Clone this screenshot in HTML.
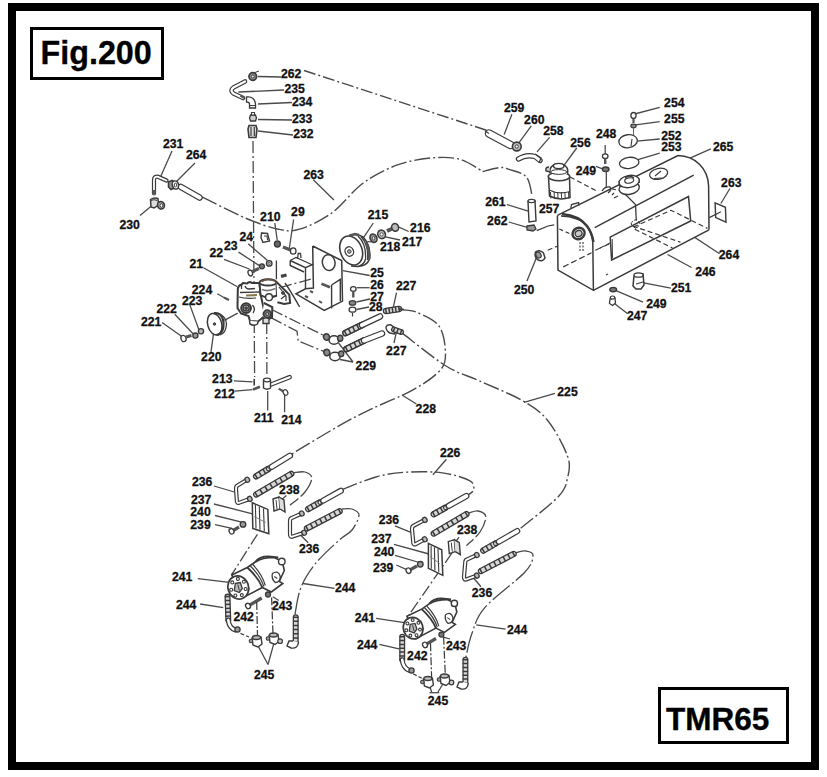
<!DOCTYPE html>
<html><head><meta charset="utf-8"><style>
html,body{margin:0;padding:0;background:#fff;width:827px;height:777px;overflow:hidden}
svg{display:block;font-family:"Liberation Sans",sans-serif}
</style></head><body>
<svg width="827" height="777" viewBox="0 0 827 777" font-family="Liberation Sans, sans-serif" font-weight="bold" fill="#111"><rect x="12" y="7" width="803" height="759" fill="none" stroke="#000" stroke-width="8"/>
<rect x="31.5" y="28.5" width="131" height="50" fill="none" stroke="#000" stroke-width="3"/>
<rect x="659.5" y="688.5" width="128" height="54" fill="none" stroke="#000" stroke-width="3"/>
<text x="40.5" y="64" font-size="32.3" stroke="#000" stroke-width="0.3" fill="#000">Fig.200</text>
<text x="666" y="729.8" font-size="31.5" stroke="#000" stroke-width="0.35" fill="#000">TMR65</text>
<text transform="translate(280.9 78.3) scale(0.94 1)" font-size="13" stroke="#111" stroke-width="0.3">262</text>
<text transform="translate(284.4 93.0) scale(0.94 1)" font-size="13" stroke="#111" stroke-width="0.3">235</text>
<text transform="translate(292.0 105.6) scale(0.94 1)" font-size="13" stroke="#111" stroke-width="0.3">234</text>
<text transform="translate(292.0 122.5) scale(0.94 1)" font-size="13" stroke="#111" stroke-width="0.3">233</text>
<text transform="translate(293.2 138.3) scale(0.94 1)" font-size="13" stroke="#111" stroke-width="0.3">232</text>
<text transform="translate(303.4 178.5) scale(0.94 1)" font-size="13" stroke="#111" stroke-width="0.3">263</text>
<text transform="translate(162.9 147.7) scale(0.94 1)" font-size="13" stroke="#111" stroke-width="0.3">231</text>
<text transform="translate(185.9 158.5) scale(0.94 1)" font-size="13" stroke="#111" stroke-width="0.3">264</text>
<text transform="translate(119.4 229.0) scale(0.94 1)" font-size="13" stroke="#111" stroke-width="0.3">230</text>
<text transform="translate(260.1 220.7) scale(0.94 1)" font-size="13" stroke="#111" stroke-width="0.3">210</text>
<text transform="translate(291.1 215.9) scale(0.94 1)" font-size="13" stroke="#111" stroke-width="0.3">29</text>
<text transform="translate(239.4 240.8) scale(0.94 1)" font-size="13" stroke="#111" stroke-width="0.3">24</text>
<text transform="translate(223.9 249.7) scale(0.94 1)" font-size="13" stroke="#111" stroke-width="0.3">23</text>
<text transform="translate(209.4 257.0) scale(0.94 1)" font-size="13" stroke="#111" stroke-width="0.3">22</text>
<text transform="translate(189.4 267.8) scale(0.94 1)" font-size="13" stroke="#111" stroke-width="0.3">21</text>
<text transform="translate(191.8 293.5) scale(0.94 1)" font-size="13" stroke="#111" stroke-width="0.3">224</text>
<text transform="translate(182.0 305.0) scale(0.94 1)" font-size="13" stroke="#111" stroke-width="0.3">223</text>
<text transform="translate(156.4 312.7) scale(0.94 1)" font-size="13" stroke="#111" stroke-width="0.3">222</text>
<text transform="translate(141.0 326.0) scale(0.94 1)" font-size="13" stroke="#111" stroke-width="0.3">221</text>
<text transform="translate(201.1 360.6) scale(0.94 1)" font-size="13" stroke="#111" stroke-width="0.3">220</text>
<text transform="translate(367.8 218.8) scale(0.94 1)" font-size="13" stroke="#111" stroke-width="0.3">215</text>
<text transform="translate(410.1 231.5) scale(0.94 1)" font-size="13" stroke="#111" stroke-width="0.3">216</text>
<text transform="translate(402.0 245.7) scale(0.94 1)" font-size="13" stroke="#111" stroke-width="0.3">217</text>
<text transform="translate(380.0 251.0) scale(0.94 1)" font-size="13" stroke="#111" stroke-width="0.3">218</text>
<text transform="translate(370.3 276.7) scale(0.94 1)" font-size="13" stroke="#111" stroke-width="0.3">25</text>
<text transform="translate(370.3 289.0) scale(0.94 1)" font-size="13" stroke="#111" stroke-width="0.3">26</text>
<text transform="translate(370.3 301.0) scale(0.94 1)" font-size="13" stroke="#111" stroke-width="0.3">27</text>
<text transform="translate(369.0 311.0) scale(0.94 1)" font-size="13" stroke="#111" stroke-width="0.3">28</text>
<text transform="translate(395.9 290.0) scale(0.94 1)" font-size="13" stroke="#111" stroke-width="0.3">227</text>
<text transform="translate(386.1 355.0) scale(0.94 1)" font-size="13" stroke="#111" stroke-width="0.3">227</text>
<text transform="translate(355.6 369.6) scale(0.94 1)" font-size="13" stroke="#111" stroke-width="0.3">229</text>
<text transform="translate(212.1 383.0) scale(0.94 1)" font-size="13" stroke="#111" stroke-width="0.3">213</text>
<text transform="translate(214.3 397.5) scale(0.94 1)" font-size="13" stroke="#111" stroke-width="0.3">212</text>
<text transform="translate(253.9 422.4) scale(0.94 1)" font-size="13" stroke="#111" stroke-width="0.3">211</text>
<text transform="translate(281.2 424.1) scale(0.94 1)" font-size="13" stroke="#111" stroke-width="0.3">214</text>
<text transform="translate(415.6 413.0) scale(0.94 1)" font-size="13" stroke="#111" stroke-width="0.3">228</text>
<text transform="translate(557.3 396.3) scale(0.94 1)" font-size="13" stroke="#111" stroke-width="0.3">225</text>
<text transform="translate(440.0 457.4) scale(0.94 1)" font-size="13" stroke="#111" stroke-width="0.3">226</text>
<text transform="translate(503.9 112.0) scale(0.94 1)" font-size="13" stroke="#111" stroke-width="0.3">259</text>
<text transform="translate(524.1 124.0) scale(0.94 1)" font-size="13" stroke="#111" stroke-width="0.3">260</text>
<text transform="translate(543.2 134.5) scale(0.94 1)" font-size="13" stroke="#111" stroke-width="0.3">258</text>
<text transform="translate(570.3 146.5) scale(0.94 1)" font-size="13" stroke="#111" stroke-width="0.3">256</text>
<text transform="translate(596.0 137.5) scale(0.94 1)" font-size="13" stroke="#111" stroke-width="0.3">248</text>
<text transform="translate(575.7 175.1) scale(0.94 1)" font-size="13" stroke="#111" stroke-width="0.3">249</text>
<text transform="translate(664.1 107.0) scale(0.94 1)" font-size="13" stroke="#111" stroke-width="0.3">254</text>
<text transform="translate(664.1 122.7) scale(0.94 1)" font-size="13" stroke="#111" stroke-width="0.3">255</text>
<text transform="translate(661.2 139.6) scale(0.94 1)" font-size="13" stroke="#111" stroke-width="0.3">252</text>
<text transform="translate(661.2 151.4) scale(0.94 1)" font-size="13" stroke="#111" stroke-width="0.3">253</text>
<text transform="translate(713.0 150.5) scale(0.94 1)" font-size="13" stroke="#111" stroke-width="0.3">265</text>
<text transform="translate(721.1 186.5) scale(0.94 1)" font-size="13" stroke="#111" stroke-width="0.3">263</text>
<text transform="translate(485.2 205.7) scale(0.94 1)" font-size="13" stroke="#111" stroke-width="0.3">261</text>
<text transform="translate(539.0 212.8) scale(0.94 1)" font-size="13" stroke="#111" stroke-width="0.3">257</text>
<text transform="translate(487.1 225.4) scale(0.94 1)" font-size="13" stroke="#111" stroke-width="0.3">262</text>
<text transform="translate(513.9 293.5) scale(0.94 1)" font-size="13" stroke="#111" stroke-width="0.3">250</text>
<text transform="translate(718.8 258.5) scale(0.94 1)" font-size="13" stroke="#111" stroke-width="0.3">264</text>
<text transform="translate(695.2 276.0) scale(0.94 1)" font-size="13" stroke="#111" stroke-width="0.3">246</text>
<text transform="translate(670.9 292.0) scale(0.94 1)" font-size="13" stroke="#111" stroke-width="0.3">251</text>
<text transform="translate(646.2 307.8) scale(0.94 1)" font-size="13" stroke="#111" stroke-width="0.3">249</text>
<text transform="translate(626.9 320.0) scale(0.94 1)" font-size="13" stroke="#111" stroke-width="0.3">247</text>
<text transform="translate(192.0 485.5) scale(0.94 1)" font-size="13" stroke="#111" stroke-width="0.3">236</text>
<text transform="translate(191.0 503.6) scale(0.94 1)" font-size="13" stroke="#111" stroke-width="0.3">237</text>
<text transform="translate(190.3 515.8) scale(0.94 1)" font-size="13" stroke="#111" stroke-width="0.3">240</text>
<text transform="translate(190.3 528.7) scale(0.94 1)" font-size="13" stroke="#111" stroke-width="0.3">239</text>
<text transform="translate(279.1 494.4) scale(0.94 1)" font-size="13" stroke="#111" stroke-width="0.3">238</text>
<text transform="translate(298.9 552.5) scale(0.94 1)" font-size="13" stroke="#111" stroke-width="0.3">236</text>
<text transform="translate(171.9 581.0) scale(0.94 1)" font-size="13" stroke="#111" stroke-width="0.3">241</text>
<text transform="translate(175.9 608.8) scale(0.94 1)" font-size="13" stroke="#111" stroke-width="0.3">244</text>
<text transform="translate(233.4 621.0) scale(0.94 1)" font-size="13" stroke="#111" stroke-width="0.3">242</text>
<text transform="translate(271.9 610.0) scale(0.94 1)" font-size="13" stroke="#111" stroke-width="0.3">243</text>
<text transform="translate(334.9 591.5) scale(0.94 1)" font-size="13" stroke="#111" stroke-width="0.3">244</text>
<text transform="translate(254.0 679.0) scale(0.94 1)" font-size="13" stroke="#111" stroke-width="0.3">245</text>
<text transform="translate(378.7 523.7) scale(0.94 1)" font-size="13" stroke="#111" stroke-width="0.3">236</text>
<text transform="translate(371.2 542.5) scale(0.94 1)" font-size="13" stroke="#111" stroke-width="0.3">237</text>
<text transform="translate(373.9 555.6) scale(0.94 1)" font-size="13" stroke="#111" stroke-width="0.3">240</text>
<text transform="translate(372.9 572.3) scale(0.94 1)" font-size="13" stroke="#111" stroke-width="0.3">239</text>
<text transform="translate(456.9 533.6) scale(0.94 1)" font-size="13" stroke="#111" stroke-width="0.3">238</text>
<text transform="translate(471.8 597.4) scale(0.94 1)" font-size="13" stroke="#111" stroke-width="0.3">236</text>
<text transform="translate(354.7 621.7) scale(0.94 1)" font-size="13" stroke="#111" stroke-width="0.3">241</text>
<text transform="translate(356.9 649.4) scale(0.94 1)" font-size="13" stroke="#111" stroke-width="0.3">244</text>
<text transform="translate(407.1 659.6) scale(0.94 1)" font-size="13" stroke="#111" stroke-width="0.3">242</text>
<text transform="translate(446.0 650.2) scale(0.94 1)" font-size="13" stroke="#111" stroke-width="0.3">243</text>
<text transform="translate(507.0 634.2) scale(0.94 1)" font-size="13" stroke="#111" stroke-width="0.3">244</text>
<text transform="translate(427.8 704.8) scale(0.94 1)" font-size="13" stroke="#111" stroke-width="0.3">245</text>
<line x1="258.0" y1="76.5" x2="281.0" y2="77.0" stroke="#4a4a4a" stroke-width="1.3"/>
<line x1="238.4" y1="92.0" x2="284.0" y2="90.0" stroke="#4a4a4a" stroke-width="1.3"/>
<line x1="258.0" y1="104.0" x2="292.0" y2="102.5" stroke="#4a4a4a" stroke-width="1.3"/>
<line x1="258.0" y1="119.5" x2="292.0" y2="120.0" stroke="#4a4a4a" stroke-width="1.3"/>
<line x1="258.0" y1="131.0" x2="293.0" y2="135.0" stroke="#4a4a4a" stroke-width="1.3"/>
<line x1="313.3" y1="179.7" x2="333.9" y2="200.0" stroke="#4a4a4a" stroke-width="1.3"/>
<line x1="172.0" y1="151.0" x2="160.0" y2="178.0" stroke="#4a4a4a" stroke-width="1.3"/>
<line x1="195.0" y1="163.0" x2="176.0" y2="182.0" stroke="#4a4a4a" stroke-width="1.3"/>
<line x1="140.0" y1="215.5" x2="150.8" y2="206.4" stroke="#4a4a4a" stroke-width="1.3"/>
<line x1="274.8" y1="223.0" x2="277.2" y2="240.0" stroke="#4a4a4a" stroke-width="1.3"/>
<line x1="293.6" y1="219.5" x2="289.3" y2="248.5" stroke="#4a4a4a" stroke-width="1.3"/>
<line x1="248.2" y1="243.7" x2="267.5" y2="260.6" stroke="#4a4a4a" stroke-width="1.3"/>
<line x1="238.5" y1="252.1" x2="259.0" y2="265.4" stroke="#4a4a4a" stroke-width="1.3"/>
<line x1="224.0" y1="259.4" x2="249.4" y2="269.0" stroke="#4a4a4a" stroke-width="1.3"/>
<line x1="203.4" y1="267.8" x2="237.0" y2="286.5" stroke="#4a4a4a" stroke-width="1.3"/>
<line x1="217.2" y1="293.8" x2="228.0" y2="299.8" stroke="#4a4a4a" stroke-width="1.3"/>
<line x1="189.3" y1="303.4" x2="199.0" y2="330.0" stroke="#4a4a4a" stroke-width="1.3"/>
<line x1="174.8" y1="314.3" x2="193.0" y2="333.7" stroke="#4a4a4a" stroke-width="1.3"/>
<line x1="162.0" y1="322.5" x2="182.6" y2="337.0" stroke="#4a4a4a" stroke-width="1.3"/>
<line x1="213.5" y1="333.7" x2="211.0" y2="351.8" stroke="#4a4a4a" stroke-width="1.3"/>
<line x1="342.8" y1="270.6" x2="369.6" y2="275.5" stroke="#4a4a4a" stroke-width="1.3"/>
<line x1="356.7" y1="287.7" x2="369.6" y2="287.7" stroke="#4a4a4a" stroke-width="1.3"/>
<line x1="356.5" y1="302.0" x2="370.0" y2="299.0" stroke="#4a4a4a" stroke-width="1.3"/>
<line x1="356.5" y1="309.5" x2="369.0" y2="307.0" stroke="#4a4a4a" stroke-width="1.3"/>
<line x1="373.3" y1="223.0" x2="363.5" y2="237.6" stroke="#4a4a4a" stroke-width="1.3"/>
<line x1="383.0" y1="236.4" x2="400.0" y2="240.0" stroke="#4a4a4a" stroke-width="1.3"/>
<line x1="397.7" y1="226.6" x2="408.7" y2="231.5" stroke="#4a4a4a" stroke-width="1.3"/>
<line x1="396.5" y1="292.6" x2="392.8" y2="309.7" stroke="#4a4a4a" stroke-width="1.3"/>
<line x1="394.0" y1="343.0" x2="396.5" y2="331.7" stroke="#4a4a4a" stroke-width="1.3"/>
<line x1="353.0" y1="362.0" x2="338.6" y2="343.0" stroke="#4a4a4a" stroke-width="1.3"/>
<line x1="353.0" y1="362.0" x2="340.0" y2="359.5" stroke="#4a4a4a" stroke-width="1.3"/>
<line x1="233.9" y1="380.9" x2="252.5" y2="381.8" stroke="#4a4a4a" stroke-width="1.3"/>
<line x1="234.7" y1="391.1" x2="252.5" y2="389.7" stroke="#4a4a4a" stroke-width="1.3"/>
<line x1="267.7" y1="391.1" x2="267.7" y2="410.6" stroke="#4a4a4a" stroke-width="1.3"/>
<line x1="284.6" y1="394.5" x2="284.6" y2="412.3" stroke="#4a4a4a" stroke-width="1.3"/>
<line x1="402.0" y1="395.0" x2="416.4" y2="404.0" stroke="#4a4a4a" stroke-width="1.3"/>
<line x1="524.0" y1="402.3" x2="555.0" y2="393.3" stroke="#4a4a4a" stroke-width="1.3"/>
<line x1="432.9" y1="474.8" x2="446.4" y2="459.3" stroke="#4a4a4a" stroke-width="1.3"/>
<line x1="511.9" y1="114.2" x2="504.2" y2="134.5" stroke="#4a4a4a" stroke-width="1.3"/>
<line x1="531.3" y1="125.8" x2="518.7" y2="143.2" stroke="#4a4a4a" stroke-width="1.3"/>
<line x1="549.6" y1="137.4" x2="537.0" y2="151.9" stroke="#4a4a4a" stroke-width="1.3"/>
<line x1="576.7" y1="148.0" x2="563.2" y2="166.4" stroke="#4a4a4a" stroke-width="1.3"/>
<line x1="596.0" y1="166.4" x2="603.8" y2="169.3" stroke="#4a4a4a" stroke-width="1.3"/>
<line x1="634.6" y1="114.0" x2="659.7" y2="107.4" stroke="#4a4a4a" stroke-width="1.3"/>
<line x1="635.7" y1="124.8" x2="659.7" y2="121.6" stroke="#4a4a4a" stroke-width="1.3"/>
<line x1="636.8" y1="141.2" x2="659.7" y2="139.0" stroke="#4a4a4a" stroke-width="1.3"/>
<line x1="637.9" y1="159.7" x2="659.7" y2="153.1" stroke="#4a4a4a" stroke-width="1.3"/>
<line x1="657.5" y1="172.7" x2="710.8" y2="148.8" stroke="#4a4a4a" stroke-width="1.3"/>
<line x1="729.9" y1="188.5" x2="720.9" y2="203.5" stroke="#4a4a4a" stroke-width="1.3"/>
<line x1="506.8" y1="204.5" x2="529.0" y2="211.3" stroke="#4a4a4a" stroke-width="1.3"/>
<line x1="508.7" y1="222.0" x2="528.0" y2="227.7" stroke="#4a4a4a" stroke-width="1.3"/>
<line x1="527.0" y1="281.0" x2="536.8" y2="256.7" stroke="#4a4a4a" stroke-width="1.3"/>
<line x1="676.5" y1="225.4" x2="719.6" y2="253.7" stroke="#4a4a4a" stroke-width="1.3"/>
<line x1="667.5" y1="254.5" x2="691.5" y2="267.5" stroke="#4a4a4a" stroke-width="1.3"/>
<line x1="643.6" y1="282.8" x2="670.8" y2="288.2" stroke="#4a4a4a" stroke-width="1.3"/>
<line x1="616.0" y1="290.6" x2="643.0" y2="302.2" stroke="#4a4a4a" stroke-width="1.3"/>
<line x1="614.1" y1="303.2" x2="627.7" y2="313.8" stroke="#4a4a4a" stroke-width="1.3"/>
<line x1="213.9" y1="486.0" x2="234.4" y2="492.0" stroke="#4a4a4a" stroke-width="1.3"/>
<line x1="213.9" y1="504.0" x2="252.5" y2="513.8" stroke="#4a4a4a" stroke-width="1.3"/>
<line x1="215.0" y1="515.5" x2="241.7" y2="522.2" stroke="#4a4a4a" stroke-width="1.3"/>
<line x1="215.0" y1="524.6" x2="232.0" y2="528.3" stroke="#4a4a4a" stroke-width="1.3"/>
<line x1="286.4" y1="495.6" x2="279.0" y2="501.7" stroke="#4a4a4a" stroke-width="1.3"/>
<line x1="308.2" y1="542.8" x2="298.5" y2="533.0" stroke="#4a4a4a" stroke-width="1.3"/>
<line x1="197.8" y1="578.7" x2="229.3" y2="582.3" stroke="#4a4a4a" stroke-width="1.3"/>
<line x1="200.2" y1="604.0" x2="223.2" y2="607.7" stroke="#4a4a4a" stroke-width="1.3"/>
<line x1="303.0" y1="583.5" x2="334.5" y2="588.4" stroke="#4a4a4a" stroke-width="1.3"/>
<line x1="272.8" y1="596.8" x2="278.8" y2="600.5" stroke="#4a4a4a" stroke-width="1.3"/>
<line x1="268.0" y1="664.5" x2="257.0" y2="644.0" stroke="#4a4a4a" stroke-width="1.3"/>
<line x1="268.0" y1="664.5" x2="274.0" y2="642.8" stroke="#4a4a4a" stroke-width="1.3"/>
<line x1="395.0" y1="525.8" x2="410.8" y2="532.3" stroke="#4a4a4a" stroke-width="1.3"/>
<line x1="393.9" y1="544.4" x2="429.0" y2="554.0" stroke="#4a4a4a" stroke-width="1.3"/>
<line x1="395.0" y1="555.3" x2="419.3" y2="562.5" stroke="#4a4a4a" stroke-width="1.3"/>
<line x1="396.3" y1="565.0" x2="407.2" y2="569.8" stroke="#4a4a4a" stroke-width="1.3"/>
<line x1="459.0" y1="537.2" x2="455.5" y2="542.0" stroke="#4a4a4a" stroke-width="1.3"/>
<line x1="481.0" y1="586.7" x2="473.7" y2="578.3" stroke="#4a4a4a" stroke-width="1.3"/>
<line x1="376.1" y1="618.3" x2="404.4" y2="622.7" stroke="#4a4a4a" stroke-width="1.3"/>
<line x1="379.4" y1="644.4" x2="399.0" y2="648.8" stroke="#4a4a4a" stroke-width="1.3"/>
<line x1="476.3" y1="624.8" x2="505.6" y2="629.2" stroke="#4a4a4a" stroke-width="1.3"/>
<line x1="429.5" y1="692.7" x2="439.2" y2="692.7" stroke="#4a4a4a" stroke-width="1.3"/>
<line x1="431.6" y1="692.0" x2="428.4" y2="682.0" stroke="#4a4a4a" stroke-width="1.3"/>
<line x1="438.0" y1="692.0" x2="444.7" y2="681.0" stroke="#4a4a4a" stroke-width="1.3"/>
<line x1="442.5" y1="636.8" x2="450.0" y2="639.0" stroke="#4a4a4a" stroke-width="1.3"/>
<path d="M304,70.5 L489.8,131.3" stroke="#4a4a4a" stroke-width="1.4" fill="none" stroke-dasharray="12 3 2 3"/>
<path d="M253,141 L254.6,377" stroke="#4a4a4a" stroke-width="1.3" fill="none" stroke-dasharray="12 3 2 3"/>
<path d="M266.7,322 L266.9,377" stroke="#4a4a4a" stroke-width="1.3" fill="none" stroke-dasharray="12 3 2 3"/>
<path d="M202.5,197.2 C209.8,200.8 233.8,213.2 246.4,218.5 C259.0,223.8 269.4,227.4 278.3,229.2 C287.2,231.0 290.7,231.9 299.6,229.2 C308.5,226.5 320.9,220.8 331.5,213.2 C342.1,205.5 352.0,191.3 362.9,183.3 C373.8,175.3 385.4,169.4 396.7,165.2 C408.0,161.0 420.1,159.0 430.6,158 C441.1,157.0 450.9,156.9 459.6,159.2 C468.3,161.4 478.8,169.4 482.6,171.5" stroke="#4a4a4a" stroke-width="1.4" fill="none" stroke-dasharray="16 3 2 3"/>
<path d="M482.6,171.5 C485.5,170.8 495.6,168.0 500,167.6 C504.4,167.2 504.6,167.7 509,169.3 C513.4,170.9 522.5,172.5 526.4,177 C530.3,181.5 531.2,193.2 532.2,196.4" stroke="#4a4a4a" stroke-width="1.4" fill="none" stroke-dasharray="16 3 2 3"/>
<path d="M400,309.7 C402.8,310.1 410.5,309.7 417,312.4 C423.5,315.1 434.3,319.5 439,326 C443.7,332.5 445.1,344.3 445.4,351.6 C445.7,358.9 446.0,363.4 440.7,369.7 C435.4,376.0 425.3,383.0 413.5,389.6 C401.7,396.2 382.6,403.5 370,409.6 C357.4,415.7 351.2,418.9 338,426.4 C324.8,433.9 298.8,449.8 291,454.5" stroke="#4a4a4a" stroke-width="1.4" fill="none" stroke-dasharray="16 3 2 3"/>
<path d="M402.6,333.4 C409.8,338.8 433.3,358.1 446,366 C458.7,373.9 466.1,374.9 478.8,380.6 C491.5,386.4 510.8,393.9 522.3,400.5 C533.8,407.1 540.1,411.1 547.7,420.5 C555.3,429.9 564.4,447.1 567.7,456.7 C571.0,466.3 569.1,471.3 567.5,478 C565.9,484.7 566.2,488.3 558,497 C549.8,505.7 525.0,524.5 518.4,530" stroke="#4a4a4a" stroke-width="1.4" fill="none" stroke-dasharray="16 3 2 3"/>
<path d="M342,489.6 C347.8,487.5 365.8,479.6 376.7,476.7 C387.6,473.8 396.7,472.7 407.7,472.1 C418.7,471.5 432.2,471.5 442.5,472.9 C452.8,474.3 464.4,477.8 469.6,480.6 C474.8,483.5 474.0,487.4 473.5,490 C473.0,492.6 467.6,495.0 466.4,496" stroke="#4a4a4a" stroke-width="1.4" fill="none" stroke-dasharray="16 3 2 3"/>
<path d="M293.7,472.6 C295.6,472.5 302.0,471.1 305,472 C308.0,472.9 311.8,474.7 311.8,478 C311.8,481.3 308.6,487.4 305,492 C301.4,496.6 292.5,503.1 290,505.3" stroke="#4a4a4a" stroke-width="1.3" fill="none" stroke-dasharray="20 3"/>
<path d="M342,509 C343.7,509.0 349.2,508.0 352,509 C354.8,510.0 359.0,511.5 359,515 C359.0,518.5 355.3,525.8 352,530 C348.7,534.2 345.5,534.3 339.3,540 C333.1,545.7 321.4,556.1 315,564.2 C308.6,572.3 304.0,579.5 300.6,588.4 C297.2,597.3 295.5,612.6 294.5,617.4" stroke="#4a4a4a" stroke-width="1.3" fill="none" stroke-dasharray="22 3 2 3"/>
<path d="M257.4,534.3 L232,574.2" stroke="#4a4a4a" stroke-width="1.3" fill="none" stroke-dasharray="12 3 2 3"/>
<path d="M468.8,513 C470.3,512.7 475.2,510.4 478,511 C480.8,511.6 485.5,513.1 485.8,516.6 C486.1,520.1 483.2,527.2 480,532 C476.8,536.8 468.7,543.3 466.4,545.6" stroke="#4a4a4a" stroke-width="1.3" fill="none" stroke-dasharray="20 3"/>
<path d="M514.8,552.9 C516.7,552.6 523.0,550.6 526,551 C529.0,551.4 533.2,551.8 533,555.3 C532.8,558.8 533.0,563.3 525,572 C517.0,580.7 493.9,597.1 485,607.4 C476.1,617.6 475.2,624.8 471.9,633.5 C468.6,642.2 466.5,655.3 465.4,659.7" stroke="#4a4a4a" stroke-width="1.3" fill="none" stroke-dasharray="22 3 2 3"/>
<path d="M452,552.9 L408.4,615.8" stroke="#4a4a4a" stroke-width="1.3" fill="none" stroke-dasharray="12 3 2 3"/>
<path d="M271.6,309.5 L324.8,336" stroke="#4a4a4a" stroke-width="1.3" fill="none" stroke-dasharray="12 3 2 3"/>
<path d="M269,316.7 L297,331.2 L298.2,341 L324.8,351.8" stroke="#4a4a4a" stroke-width="1.3" fill="none" stroke-dasharray="14 3 2 3"/>
<path d="M280,287.7 L315,278" stroke="#4a4a4a" stroke-width="1.3" fill="none" stroke-dasharray="12 3 2 3"/>
<path d="M224.4,320.4 L237.7,313.1" stroke="#4a4a4a" stroke-width="1.3" fill="none"/>
<circle cx="252.8" cy="76.5" r="3.8" stroke="#3a3a3a" stroke-width="1.8" fill="#999"/>
<circle cx="252.8" cy="76.5" r="1.6" stroke="#3a3a3a" stroke-width="1.0" fill="#ddd"/>
<path d="M255,72.5 L259,71" stroke="#3a3a3a" stroke-width="1" fill="none"/>
<path d="M245,81.5 L233.5,87.5 Q229.5,90.5 233.5,93.5 L243,98" stroke="#3a3a3a" stroke-width="4.6" fill="none" stroke-linecap="round" stroke-linejoin="round"/>
<path d="M245,81.5 L233.5,87.5 Q229.5,90.5 233.5,93.5 L243,98" stroke="#fff" stroke-width="2.1999999999999997" fill="none" stroke-linecap="round" stroke-linejoin="round"/>
<line x1="240.5" y1="95.5" x2="244.5" y2="98.0" stroke="#555" stroke-width="2.6"/>
<path d="M246.5,97 Q254.5,96 255.5,104 L255.5,108 L249.5,108 L249.5,104 Q249.5,102 246.5,102 Z" stroke="#3a3a3a" stroke-width="1.3" fill="#fff"/>
<path d="M249.5,105.5 L255.5,105.5" stroke="#3a3a3a" stroke-width="1" fill="none"/>
<path d="M250.5,115 L255.5,115 L256.5,118 L255.5,121 L250.5,121 L249.5,118 Z" stroke="#3a3a3a" stroke-width="1.3" fill="#ccc"/>
<path d="M251.5,112.5 L254.5,112.5 L254.5,115 L251.5,115 Z" stroke="#3a3a3a" stroke-width="1.1" fill="#fff"/>
<path d="M249,125.5 L256,125.5 L257,129 L256,137.5 L249,137.5 L248,129 Z" stroke="#3a3a3a" stroke-width="1.6" fill="#ddd"/>
<path d="M251,127 L251,136 M254.3,127 L254.3,136" stroke="#3a3a3a" stroke-width="1.2" fill="none"/>
<path d="M154,193.5 L154,180 Q154,176 158,176.8 L166.5,180.5" stroke="#3a3a3a" stroke-width="4.2" fill="none" stroke-linecap="round" stroke-linejoin="round"/>
<path d="M154,193.5 L154,180 Q154,176 158,176.8 L166.5,180.5" stroke="#fff" stroke-width="1.8000000000000003" fill="none" stroke-linecap="round" stroke-linejoin="round"/>
<line x1="154.0" y1="190.0" x2="154.0" y2="194.0" stroke="#555" stroke-width="3.4"/>
<path d="M168.5,182 L172,180.5 L175,183 L174.5,188 L171,189.5 L168.5,187 Z" stroke="#3a3a3a" stroke-width="1.6" fill="#999"/>
<ellipse cx="175.5" cy="185.0" rx="3.2" ry="4.2" transform="rotate(-20 175.5 185.0)" stroke="#3a3a3a" stroke-width="1.5" fill="#fff"/>
<ellipse cx="175.5" cy="185.0" rx="1.3" ry="1.8" transform="rotate(0 175.5 185.0)" stroke="#3a3a3a" stroke-width="1" fill="none"/>
<line x1="181.0" y1="187.0" x2="199.5" y2="197.5" stroke="#3a3a3a" stroke-width="6.6" stroke-linecap="round"/>
<line x1="181.0" y1="187.0" x2="199.5" y2="197.5" stroke="#fff" stroke-width="4.199999999999999" stroke-linecap="round"/>
<path d="M150.5,199.5 Q154,197 158,198.5 L158.5,205 L154,208 L151,207 Z" stroke="#3a3a3a" stroke-width="1.5" fill="#ddd"/>
<path d="M151,200.5 Q154,199 157,200.5" stroke="#3a3a3a" stroke-width="1.2" fill="none"/>
<ellipse cx="161.0" cy="205.3" rx="3.4" ry="3.8" transform="rotate(-20 161.0 205.3)" stroke="#3a3a3a" stroke-width="1.6" fill="#aaa"/>
<ellipse cx="161.4" cy="205.5" rx="1.4" ry="1.8" transform="rotate(0 161.4 205.5)" stroke="#3a3a3a" stroke-width="1" fill="#fff"/>
<path d="M261.5,233 L267.5,233.5 L269.5,241 L263,242.5 L261,238 Z" stroke="#3a3a3a" stroke-width="1.4" fill="#fff"/>
<path d="M264,236 L267,236 L267.5,240" stroke="#3a3a3a" stroke-width="1.1" fill="none"/>
<circle cx="277.4" cy="244.0" r="3.0" stroke="#3a3a3a" stroke-width="1.3" fill="#666"/>
<line x1="283.0" y1="247.0" x2="290.5" y2="250.0" stroke="#555" stroke-width="3.2"/>
<ellipse cx="293.2" cy="251.0" rx="2.8" ry="3.2" transform="rotate(0 293.2 251.0)" stroke="#3a3a3a" stroke-width="1.3" fill="#fff"/>
<circle cx="269.2" cy="263.4" r="2.8" stroke="#3a3a3a" stroke-width="1.3" fill="#bbb"/>
<circle cx="269.2" cy="263.4" r="1.0" stroke="#3a3a3a" stroke-width="0.8" fill="#fff"/>
<circle cx="261.9" cy="266.3" r="2.5" stroke="#3a3a3a" stroke-width="1.3" fill="#777"/>
<line x1="252.5" y1="271.5" x2="259.0" y2="268.5" stroke="#555" stroke-width="3.2"/>
<ellipse cx="250.3" cy="273.0" rx="2.2" ry="3.0" transform="rotate(-20 250.3 273.0)" stroke="#3a3a3a" stroke-width="1.3" fill="#fff"/>
<line x1="224.0" y1="297.5" x2="229.0" y2="300.0" stroke="#555" stroke-width="2"/>
<circle cx="201.0" cy="331.2" r="2.6" stroke="#3a3a3a" stroke-width="1.3" fill="#bbb"/>
<circle cx="195.4" cy="335.6" r="2.6" stroke="#3a3a3a" stroke-width="1.3" fill="#999"/>
<line x1="186.0" y1="337.0" x2="191.5" y2="335.5" stroke="#555" stroke-width="3"/>
<ellipse cx="183.5" cy="338.5" rx="2.5" ry="3.2" transform="rotate(-20 183.5 338.5)" stroke="#3a3a3a" stroke-width="1.3" fill="#fff"/>
<ellipse cx="214.7" cy="324.2" rx="7" ry="11" transform="rotate(-15 214.7 324.2)" stroke="#3a3a3a" stroke-width="1.5" fill="#fff"/>
<path d="M214,313.2 Q222,312 223.5,322 Q224,334 216.5,335" stroke="#3a3a3a" stroke-width="2.2" fill="none"/>
<path d="M219,314 Q226,316 226.5,324 Q226,333 220,335" stroke="#3a3a3a" stroke-width="1.3" fill="none"/>
<circle cx="214.5" cy="324.0" r="1.2" stroke="#3a3a3a" stroke-width="1" fill="#555"/>
<path d="M237.8,289 Q238,285.5 241.5,284.5 L243,283 L247,283.5 Q249.5,281 252,283 L259.5,283 L260.5,294 L262.5,303 L264,310 L263.5,317 L258,321.5 L250,321 L248.5,316 L241,313.5 L237.5,308 Z" stroke="#3a3a3a" stroke-width="2.0" fill="#fff"/>
<path d="M241.5,284.5 L241.5,289 M245,286 Q246,289 249,289 L255,288.5 M240,292.5 L259.5,292" stroke="#3a3a3a" stroke-width="1.3" fill="none"/>
<path d="M246,295.5 L257,295" stroke="#8a7a50" stroke-width="2.2" fill="none"/>
<path d="M239,297 Q246,299 256,298" stroke="#3a3a3a" stroke-width="1.1" fill="none"/>
<circle cx="246.1" cy="308.1" r="4.9" stroke="#3a3a3a" stroke-width="2.0" fill="#ccc"/>
<circle cx="246.1" cy="308.1" r="3.0" stroke="#3a3a3a" stroke-width="1.5" fill="#fff"/>
<circle cx="246.1" cy="308.1" r="1.4" stroke="#3a3a3a" stroke-width="1.1" fill="#555"/>
<path d="M252.5,305 Q256,309 253,313" stroke="#3a3a3a" stroke-width="1.3" fill="none"/>
<path d="M259.5,282.5 L260.5,295 Q268,299.5 277,295.5 L276.5,282" stroke="#3a3a3a" stroke-width="2.0" fill="#fff"/>
<ellipse cx="268.0" cy="282.4" rx="8.5" ry="3.2" transform="rotate(0 268.0 282.4)" stroke="#3a3a3a" stroke-width="2.0" fill="#fff"/>
<path d="M261.5,281.5 Q268,277.5 275,281" stroke="#6a5040" stroke-width="1.8" fill="none"/>
<path d="M262,289.5 Q268,292 275.5,288.5" stroke="#777" stroke-width="1.8" fill="none"/>
<circle cx="269.0" cy="297.2" r="3.4" stroke="#3a3a3a" stroke-width="1.4" fill="#fff"/>
<path d="M276.5,282 L289.3,294.6 L290.1,303 L284.2,303.9 L277.4,302.2" stroke="#3a3a3a" stroke-width="2.0" fill="#fff"/>
<path d="M279,287 L286,296 L286,301 M281,299 L286,295" stroke="#3a3a3a" stroke-width="1.2" fill="none"/>
<circle cx="283.0" cy="293.0" r="1.4" stroke="#3a3a3a" stroke-width="1" fill="#555"/>
<path d="M263.9,303 L272.3,307 L272,317.5 L266,320 L262,317" stroke="#3a3a3a" stroke-width="2.0" fill="#fff"/>
<circle cx="267.3" cy="314.0" r="3.8" stroke="#3a3a3a" stroke-width="1.8" fill="#777"/>
<circle cx="267.3" cy="314.0" r="1.5" stroke="#3a3a3a" stroke-width="1" fill="#ccc"/>
<path d="M249.5,320.8 L250,324 Q254,326.5 257.5,324 L257.9,321.6" stroke="#3a3a3a" stroke-width="1.5" fill="#fff"/>
<path d="M263,319 L263,323.5 L269,323.5 L269,319" stroke="#3a3a3a" stroke-width="1.4" fill="#ddd"/>
<line x1="281.0" y1="276.4" x2="286.6" y2="275.0" stroke="#444" stroke-width="3.2"/>
<path d="M285,283 Q290,290 299.6,306.9" stroke="#3a3a3a" stroke-width="1.3" fill="none"/>
<line x1="276.4" y1="260.5" x2="276.4" y2="279.3" stroke="#3a3a3a" stroke-width="1.3"/>
<path d="M312.7,246 L341.7,260.5 L342.5,301.1 L324.3,310.5 L296,293.8 L305.5,288.8 L313.4,288 L312.7,246" stroke="#3a3a3a" stroke-width="1.5" fill="#fff"/>
<path d="M290.2,260.5 L305.5,267.7 L313.4,264.1 M290.2,260.5 L290.2,265.5 L304,272 M305.5,267.7 L305.5,288.8" stroke="#3a3a3a" stroke-width="1.4" fill="none"/>
<path d="M290.2,260.5 L296,257.5 L312.7,265" stroke="#3a3a3a" stroke-width="1.2" fill="none"/>
<path d="M297.5,259 L298.2,253.5 L300.5,253.5 L301,258" stroke="#3a3a3a" stroke-width="1.3" fill="none"/>
<ellipse cx="328.7" cy="262.6" rx="6.3" ry="8" transform="rotate(-10 328.7 262.6)" stroke="#3a3a3a" stroke-width="1.5" fill="#fff"/>
<path d="M331.6,285 L340.3,279.3 L340.3,301.1 M331.6,285 L331.6,308.4" stroke="#3a3a3a" stroke-width="1.4" fill="none"/>
<line x1="321.4" y1="283.7" x2="330.0" y2="287.3" stroke="#555" stroke-width="2.6"/>
<line x1="319.0" y1="301.0" x2="322.0" y2="303.0" stroke="#555" stroke-width="2"/>
<line x1="310.0" y1="291.0" x2="313.0" y2="292.5" stroke="#555" stroke-width="2"/>
<path d="M305,296 L308,297.5" stroke="#555" stroke-width="2" fill="none"/>
<path d="M349,235.5 Q357,233 363,237 Q371,245 369.5,259 Q367,266 358,266.5 L351,266" stroke="#3a3a3a" stroke-width="1.6" fill="#fff"/>
<path d="M358,236 Q366.5,244 365.5,259 Q364.5,264 359,266 M361,236.5 Q369,245 367.5,260" stroke="#3a3a3a" stroke-width="1.3" fill="none"/>
<path d="M366,243 Q370,250 369,259" stroke="#555" stroke-width="2.6" fill="none"/>
<ellipse cx="351.2" cy="250.5" rx="10.8" ry="15" transform="rotate(-22 351.2 250.5)" stroke="#3a3a3a" stroke-width="1.6" fill="#fff"/>
<ellipse cx="349.3" cy="251.5" rx="4.2" ry="4.8" transform="rotate(-22 349.3 251.5)" stroke="#3a3a3a" stroke-width="1.3" fill="#fff"/>
<circle cx="349.3" cy="251.5" r="1.8" stroke="#3a3a3a" stroke-width="1" fill="#aaa"/>
<path d="M350,235.5 L355,234 L359,235" stroke="#555" stroke-width="2.6" fill="none"/>
<ellipse cx="373.5" cy="238.2" rx="3.3" ry="4.3" transform="rotate(-25 373.5 238.2)" stroke="#3a3a3a" stroke-width="1.6" fill="#999"/>
<ellipse cx="373.5" cy="238.2" rx="1.3" ry="1.8" transform="rotate(0 373.5 238.2)" stroke="#3a3a3a" stroke-width="0.8" fill="#ddd"/>
<ellipse cx="381.6" cy="234.4" rx="3.8" ry="4.3" transform="rotate(-25 381.6 234.4)" stroke="#3a3a3a" stroke-width="1.6" fill="#bbb"/>
<circle cx="381.6" cy="234.4" r="1.6" stroke="#3a3a3a" stroke-width="0.8" fill="#fff"/>
<line x1="387.0" y1="231.0" x2="392.0" y2="228.8" stroke="#555" stroke-width="3.8"/>
<ellipse cx="395.1" cy="227.4" rx="3.4" ry="3.9" transform="rotate(-20 395.1 227.4)" stroke="#3a3a3a" stroke-width="1.5" fill="#bbb"/>
<line x1="367.2" y1="241.6" x2="372.0" y2="241.8" stroke="#4a4a4a" stroke-width="1.2"/>
<ellipse cx="353.3" cy="289.0" rx="2.8" ry="2.4" transform="rotate(0 353.3 289.0)" stroke="#3a3a3a" stroke-width="1.3" fill="#fff"/>
<line x1="353.3" y1="291.5" x2="353.3" y2="297.5" stroke="#555" stroke-width="2.4"/>
<ellipse cx="352.5" cy="302.9" rx="3.2" ry="2.2" transform="rotate(0 352.5 302.9)" stroke="#3a3a3a" stroke-width="1.3" fill="#888"/>
<ellipse cx="352.5" cy="309.7" rx="3.4" ry="2.5" transform="rotate(0 352.5 309.7)" stroke="#3a3a3a" stroke-width="1.3" fill="#fff"/>
<line x1="352.5" y1="313.0" x2="352.5" y2="316.5" stroke="#3a3a3a" stroke-width="1.2"/>
<line x1="386.0" y1="311.0" x2="399.0" y2="309.0" stroke="#3a3a3a" stroke-width="6.5" stroke-linecap="round"/>
<line x1="386.0" y1="311.0" x2="399.0" y2="309.0" stroke="#d8d8d8" stroke-width="3.9" stroke-linecap="round"/>
<path d="M386.4,313.9 L385.6,308.1 M389.7,313.4 L388.8,307.6 M392.9,312.9 L392.1,307.1 M396.2,312.4 L395.3,306.6 M399.4,311.9 L398.6,306.1" stroke="#3a3a3a" stroke-width="1.5" fill="none"/>
<path d="M399,309 L404,309.5" stroke="#3a3a3a" stroke-width="1.3" fill="none"/>
<path d="M386,327 Q387,324 391,325 L396,329 L394.5,334 L390,333 Q386,331 386,327 Z" stroke="#3a3a3a" stroke-width="1.4" fill="#fff"/>
<line x1="394.0" y1="329.5" x2="401.0" y2="332.0" stroke="#3a3a3a" stroke-width="6" stroke-linecap="round"/>
<line x1="394.0" y1="329.5" x2="401.0" y2="332.0" stroke="#d8d8d8" stroke-width="3.4" stroke-linecap="round"/>
<path d="M393.1,332.0 L394.9,327.0 M396.6,333.3 L398.4,328.2 M400.1,334.5 L401.9,329.5" stroke="#3a3a3a" stroke-width="1.5" fill="none"/>
<line x1="345.5" y1="333.0" x2="362.0" y2="325.0" stroke="#3a3a3a" stroke-width="6.5" stroke-linecap="round"/>
<line x1="345.5" y1="333.0" x2="362.0" y2="325.0" stroke="#fff" stroke-width="4.1" stroke-linecap="round"/>
<line x1="345.5" y1="333.0" x2="362.0" y2="325.0" stroke="#3a3a3a" stroke-width="6.5" stroke-linecap="round"/>
<line x1="345.5" y1="333.0" x2="362.0" y2="325.0" stroke="#d8d8d8" stroke-width="3.9" stroke-linecap="round"/>
<path d="M346.8,335.7 L344.2,330.3 M350.9,333.7 L348.3,328.3 M355.0,331.7 L352.5,326.3 M359.2,329.7 L356.6,324.3 M363.3,327.7 L360.7,322.3" stroke="#3a3a3a" stroke-width="1.5" fill="none"/>
<line x1="362.0" y1="325.0" x2="380.0" y2="316.5" stroke="#3a3a3a" stroke-width="6.5" stroke-linecap="round"/>
<line x1="362.0" y1="325.0" x2="380.0" y2="316.5" stroke="#fff" stroke-width="4.1" stroke-linecap="round"/>
<line x1="346.5" y1="349.0" x2="364.0" y2="340.5" stroke="#3a3a3a" stroke-width="6.5" stroke-linecap="round"/>
<line x1="346.5" y1="349.0" x2="364.0" y2="340.5" stroke="#fff" stroke-width="4.1" stroke-linecap="round"/>
<line x1="346.5" y1="349.0" x2="364.0" y2="340.5" stroke="#3a3a3a" stroke-width="6.5" stroke-linecap="round"/>
<line x1="346.5" y1="349.0" x2="364.0" y2="340.5" stroke="#d8d8d8" stroke-width="3.9" stroke-linecap="round"/>
<path d="M347.8,351.7 L345.2,346.3 M352.2,349.5 L349.6,344.2 M356.5,347.4 L354.0,342.1 M360.9,345.3 L358.3,340.0 M365.3,343.2 L362.7,337.8" stroke="#3a3a3a" stroke-width="1.5" fill="none"/>
<line x1="364.0" y1="340.5" x2="382.0" y2="333.5" stroke="#3a3a3a" stroke-width="6.5" stroke-linecap="round"/>
<line x1="364.0" y1="340.5" x2="382.0" y2="333.5" stroke="#fff" stroke-width="4.1" stroke-linecap="round"/>
<ellipse cx="334.0" cy="340.0" rx="5" ry="4.3" transform="rotate(0 334.0 340.0)" stroke="#3a3a3a" stroke-width="1.5" fill="#fff"/>
<ellipse cx="326.5" cy="337.0" rx="3" ry="3.2" transform="rotate(-20 326.5 337.0)" stroke="#3a3a3a" stroke-width="1.5" fill="#888"/>
<ellipse cx="340.2" cy="338.2" rx="2.6" ry="3" transform="rotate(0 340.2 338.2)" stroke="#3a3a3a" stroke-width="1.4" fill="#888"/>
<ellipse cx="335.0" cy="356.5" rx="5.2" ry="4.2" transform="rotate(0 335.0 356.5)" stroke="#3a3a3a" stroke-width="1.5" fill="#fff"/>
<ellipse cx="326.8" cy="352.5" rx="3" ry="3.2" transform="rotate(-20 326.8 352.5)" stroke="#3a3a3a" stroke-width="1.5" fill="#888"/>
<ellipse cx="341.2" cy="353.8" rx="2.6" ry="2.8" transform="rotate(0 341.2 353.8)" stroke="#3a3a3a" stroke-width="1.4" fill="#888"/>
<line x1="254.2" y1="379.0" x2="254.2" y2="385.5" stroke="#3a3a3a" stroke-width="1.6"/>
<line x1="253.0" y1="389.5" x2="260.0" y2="386.8" stroke="#555" stroke-width="2.6"/>
<line x1="271.0" y1="384.5" x2="289.7" y2="377.2" stroke="#3a3a3a" stroke-width="4.5" stroke-linecap="round"/>
<line x1="271.0" y1="384.5" x2="289.7" y2="377.2" stroke="#fff" stroke-width="2.1" stroke-linecap="round"/>
<path d="M263.5,380 L263.5,388 Q267,390.5 270.5,388 L270.5,380" stroke="#3a3a3a" stroke-width="1.4" fill="#fff"/>
<ellipse cx="267.0" cy="380.0" rx="3.5" ry="1.8" transform="rotate(0 267.0 380.0)" stroke="#3a3a3a" stroke-width="1.3" fill="#fff"/>
<line x1="278.7" y1="388.6" x2="283.5" y2="391.5" stroke="#555" stroke-width="2.2"/>
<ellipse cx="285.5" cy="392.5" rx="2.2" ry="2.8" transform="rotate(-30 285.5 392.5)" stroke="#3a3a3a" stroke-width="1.2" fill="#fff"/>
<path d="M557.4,215.4 L678,155.5 C695,156 708,168 708.6,186 L709,229.8 L593.4,290.3 L558,270.1 Z" stroke="#3a3a3a" stroke-width="0" fill="#fff"/>
<path d="M557.4,215.4 L678,155.5 C695,156 708,168 708.6,186 L709,229.8" stroke="#3a3a3a" stroke-width="1.5" fill="none"/>
<path d="M557.4,215.4 L558,270.1 L593.4,290.3 L592.8,242.5 C592,232 586,222 577,219 C571,216.5 566,216 561,216" stroke="#3a3a3a" stroke-width="1.5" fill="none"/>
<path d="M562,214 C572,215 582,219 587,226 C590,230 592.5,236 593.5,242" stroke="#3a3a3a" stroke-width="2.4" fill="none"/>
<path d="M593.4,290.3 L709,229.8" stroke="#3a3a3a" stroke-width="1.5" fill="none"/>
<path d="M594.7,227.7 L693.7,175.1" stroke="#3a3a3a" stroke-width="1.5" fill="none"/>
<path d="M610.2,237.2 L688.5,196.5 L690.7,221 L611.6,260 Z" stroke="#3a3a3a" stroke-width="1.5" fill="none"/>
<path d="M612.2,239 L612.5,258" stroke="#3a3a3a" stroke-width="1.0" fill="none"/>
<path d="M559.3,229 L572.2,234.7" stroke="#3a3a3a" stroke-width="1.2" fill="none" stroke-dasharray="4 3"/>
<path d="M563.2,266.9 L591.5,252.8 M595.3,250.2 L609.5,243.8" stroke="#3a3a3a" stroke-width="1.2" fill="none" stroke-dasharray="6 3"/>
<path d="M600,248 L610,243" stroke="#3a3a3a" stroke-width="1.1" fill="none" stroke-dasharray="4 3"/>
<path d="M633.4,227 L671.1,210.3 L707.4,228.4" stroke="#3a3a3a" stroke-width="1.2" fill="none" stroke-dasharray="5 3"/>
<path d="M632.5,226 L680.5,242.2 M634.8,229.2 L672.5,248" stroke="#3a3a3a" stroke-width="1.2" fill="none" stroke-dasharray="5 3"/>
<path d="M631,224 Q633,219 638,220 L640,224 L636,229 Z" stroke="#3a3a3a" stroke-width="1.0" fill="none" stroke-dasharray="3 2"/>
<path d="M622,191 L635.5,204.5 L636.3,220.5" stroke="#3a3a3a" stroke-width="1.3" fill="none"/>
<path d="M612,189 L622,191" stroke="#3a3a3a" stroke-width="1.1" fill="none" stroke-dasharray="4 3"/>
<path d="M606,275 L608,274" stroke="#3a3a3a" stroke-width="1.2" fill="none"/>
<path d="M570.9,208 L571.5,204.5 L578.6,202.5 L579,205.5" stroke="#3a3a3a" stroke-width="1.3" fill="none"/>
<path d="M602,191 Q605,186 610,187 Q612,190 608,193" stroke="#3a3a3a" stroke-width="1.3" fill="none"/>
<path d="M612,195 L614,193 M614,198 L618,196" stroke="#3a3a3a" stroke-width="1.2" fill="none"/>
<ellipse cx="578.6" cy="233.5" rx="6.2" ry="5.6" transform="rotate(-30 578.6 233.5)" stroke="#3a3a3a" stroke-width="2.4" fill="#fff"/>
<ellipse cx="578.6" cy="233.5" rx="3.5" ry="3.0" transform="rotate(-30 578.6 233.5)" stroke="#3a3a3a" stroke-width="1.3" fill="#ccc"/>
<path d="M580,242 L580,251 M583,242 L583,251" stroke="#3a3a3a" stroke-width="1.1" fill="none" stroke-dasharray="2 1.5"/>
<path d="M715.1,202.8 L725.4,207.3 L726,222.1 L715.7,217.6 Z" stroke="#3a3a3a" stroke-width="1.4" fill="#fff"/>
<path d="M709.3,217.6 L720.9,211.8" stroke="#3a3a3a" stroke-width="1.2" fill="none"/>
<ellipse cx="629.2" cy="188.2" rx="10.2" ry="6.2" transform="rotate(-10 629.2 188.2)" stroke="#3a3a3a" stroke-width="1.4" fill="#fff"/>
<path d="M619.2,186 L619.4,181 M639.2,183 L639.2,179" stroke="#3a3a3a" stroke-width="1.3" fill="none"/>
<ellipse cx="629.2" cy="181.5" rx="10.2" ry="6" transform="rotate(-10 629.2 181.5)" stroke="#3a3a3a" stroke-width="1.4" fill="#fff"/>
<ellipse cx="629.2" cy="180.5" rx="4.5" ry="2.6" transform="rotate(-10 629.2 180.5)" stroke="#3a3a3a" stroke-width="1.2" fill="none"/>
<path d="M625,178 Q629,174 634,178" stroke="#3a3a3a" stroke-width="1.2" fill="none"/>
<ellipse cx="658.6" cy="173.8" rx="9.2" ry="5.4" transform="rotate(-12 658.6 173.8)" stroke="#3a3a3a" stroke-width="1.3" fill="#fff"/>
<path d="M655,176 L661,171 M654,178.5 L662,178" stroke="#3a3a3a" stroke-width="1.1" fill="none"/>
<ellipse cx="629.2" cy="162.9" rx="9.8" ry="5.5" transform="rotate(-8 629.2 162.9)" stroke="#3a3a3a" stroke-width="1.3" fill="#fff"/>
<ellipse cx="628.1" cy="141.2" rx="9.3" ry="6.5" transform="rotate(-8 628.1 141.2)" stroke="#3a3a3a" stroke-width="1.3" fill="#fff"/>
<path d="M632,139 L631,146" stroke="#3a3a3a" stroke-width="1.1" fill="none"/>
<ellipse cx="633.5" cy="115.5" rx="2.6" ry="3.0" transform="rotate(0 633.5 115.5)" stroke="#3a3a3a" stroke-width="1.3" fill="#fff"/>
<line x1="633.5" y1="118.5" x2="633.5" y2="123.0" stroke="#555" stroke-width="2.2"/>
<ellipse cx="633.5" cy="126.0" rx="2.6" ry="1.8" transform="rotate(0 633.5 126.0)" stroke="#3a3a3a" stroke-width="1.2" fill="#888"/>
<line x1="633.5" y1="128.0" x2="633.5" y2="135.0" stroke="#666" stroke-width="1.0"/>
<line x1="605.2" y1="145.0" x2="605.2" y2="154.0" stroke="#3a3a3a" stroke-width="1.2"/>
<ellipse cx="605.2" cy="156.2" rx="2.8" ry="2.3" transform="rotate(0 605.2 156.2)" stroke="#3a3a3a" stroke-width="1.3" fill="#fff"/>
<line x1="605.2" y1="158.5" x2="605.2" y2="164.0" stroke="#555" stroke-width="2.4"/>
<ellipse cx="605.7" cy="169.3" rx="3.3" ry="2.3" transform="rotate(0 605.7 169.3)" stroke="#3a3a3a" stroke-width="1.4" fill="#777"/>
<line x1="606.3" y1="172.0" x2="606.3" y2="188.0" stroke="#3a3a3a" stroke-width="1.2"/>
<path d="M535.5,252 Q540,249 543.5,253 L545,258 Q543,262 538,260 Q534,257 535.5,252 Z" stroke="#3a3a3a" stroke-width="1.5" fill="#fff"/>
<ellipse cx="538.5" cy="255.0" rx="2.4" ry="3.2" transform="rotate(-30 538.5 255.0)" stroke="#3a3a3a" stroke-width="1.2" fill="#999"/>
<path d="M547.7,250.2 L558,246" stroke="#3a3a3a" stroke-width="1.2" fill="none" stroke-dasharray="5 3"/>
<path d="M528,201.5 L535,200.5 L536,221 L529,222 Z" stroke="#3a3a3a" stroke-width="1.4" fill="#fff"/>
<ellipse cx="531.5" cy="201.0" rx="3.5" ry="1.6" transform="rotate(0 531.5 201.0)" stroke="#3a3a3a" stroke-width="1.2" fill="#fff"/>
<path d="M527,226 L534,225 L536,229 L533,231 L527,230 Z" stroke="#3a3a3a" stroke-width="1.3" fill="#999"/>
<path d="M536.8,230.6 L548,226 L554.2,224.8" stroke="#3a3a3a" stroke-width="1.2" fill="none"/>
<path d="M634,276 L643,274 L644,285 L641,289 L636,289 L633,286 Z" stroke="#3a3a3a" stroke-width="1.5" fill="#fff"/>
<ellipse cx="638.5" cy="275.0" rx="4.5" ry="2.2" transform="rotate(0 638.5 275.0)" stroke="#3a3a3a" stroke-width="1.3" fill="#fff"/>
<path d="M636,284 L643,282" stroke="#3a3a3a" stroke-width="1.1" fill="none"/>
<ellipse cx="613.2" cy="289.6" rx="3.4" ry="2.2" transform="rotate(0 613.2 289.6)" stroke="#3a3a3a" stroke-width="1.4" fill="#777"/>
<path d="M610,299 L615,298 L615.5,303 L612.5,305.5 L609.5,303.5 Z" stroke="#3a3a3a" stroke-width="1.3" fill="#fff"/>
<ellipse cx="612.5" cy="297.5" rx="2.2" ry="1.5" transform="rotate(0 612.5 297.5)" stroke="#3a3a3a" stroke-width="1.2" fill="#fff"/>
<path d="M548.5,176 L549.5,196 Q559,201 570,197.5 L569.5,177" stroke="#3a3a3a" stroke-width="1.5" fill="#fff"/>
<ellipse cx="559.0" cy="176.5" rx="10.7" ry="4.2" transform="rotate(0 559.0 176.5)" stroke="#3a3a3a" stroke-width="1.5" fill="#fff"/>
<path d="M549,190 Q559,195 570,191.5" stroke="#3a3a3a" stroke-width="1.3" fill="none"/>
<line x1="550.5" y1="192.0" x2="550.8" y2="198.5" stroke="#3a3a3a" stroke-width="1.0"/>
<line x1="554.1" y1="192.0" x2="554.4" y2="198.5" stroke="#3a3a3a" stroke-width="1.0"/>
<line x1="557.7" y1="192.0" x2="558.0" y2="198.5" stroke="#3a3a3a" stroke-width="1.0"/>
<line x1="561.3" y1="192.0" x2="561.6" y2="198.5" stroke="#3a3a3a" stroke-width="1.0"/>
<line x1="564.9" y1="192.0" x2="565.2" y2="198.5" stroke="#3a3a3a" stroke-width="1.0"/>
<line x1="568.5" y1="192.0" x2="568.8" y2="198.5" stroke="#3a3a3a" stroke-width="1.0"/>
<path d="M550,173 Q549,166 556,164 L563,164.5 Q569,167 567.5,174" stroke="#3a3a3a" stroke-width="1.4" fill="#fff"/>
<ellipse cx="558.7" cy="166.0" rx="5.2" ry="2.6" transform="rotate(0 558.7 166.0)" stroke="#3a3a3a" stroke-width="1.3" fill="#fff"/>
<path d="M549,167 Q545,167 546,171 L550,172" stroke="#3a3a3a" stroke-width="1.4" fill="#ccc"/>
<ellipse cx="558.7" cy="172.0" rx="8" ry="2.4" transform="rotate(0 558.7 172.0)" stroke="#3a3a3a" stroke-width="1.0" fill="none"/>
<path d="M570,177 L596,190.6" stroke="#3a3a3a" stroke-width="1.2" fill="none" stroke-dasharray="5 3"/>
<line x1="489.0" y1="133.5" x2="510.5" y2="145.0" stroke="#3a3a3a" stroke-width="8.4" stroke-linecap="round"/>
<line x1="489.0" y1="133.5" x2="510.5" y2="145.0" stroke="#fff" stroke-width="6.0" stroke-linecap="round"/>
<path d="M485,131 L489,133.5" stroke="#3a3a3a" stroke-width="1.2" fill="none"/>
<circle cx="516.8" cy="146.5" r="4.4" stroke="#3a3a3a" stroke-width="1.6" fill="#bbb"/>
<circle cx="516.8" cy="146.5" r="1.6" stroke="#3a3a3a" stroke-width="1" fill="#fff"/>
<path d="M518.5,159 Q526,154 535,156.5 L540,160.5" stroke="#3a3a3a" stroke-width="5.4" fill="none" stroke-linecap="round" stroke-linejoin="round"/>
<path d="M518.5,159 Q526,154 535,156.5 L540,160.5" stroke="#fff" stroke-width="3.0000000000000004" fill="none" stroke-linecap="round" stroke-linejoin="round"/>
<path d="M535,154 L541,158 L539,163" stroke="#3a3a3a" stroke-width="1.3" fill="none"/>
<line x1="256.2" y1="476.3" x2="268.4" y2="468.9" stroke="#3a3a3a" stroke-width="6.5" stroke-linecap="round"/>
<line x1="256.2" y1="476.3" x2="268.4" y2="468.9" stroke="#d8d8d8" stroke-width="3.9" stroke-linecap="round"/>
<path d="M257.7,478.8 L254.7,473.8 M261.8,476.3 L258.7,471.3 M265.8,473.9 L262.8,468.8 M269.9,471.4 L266.8,466.4" stroke="#3a3a3a" stroke-width="1.5" fill="none"/>
<line x1="268.4" y1="468.9" x2="271.7" y2="466.8" stroke="#3a3a3a" stroke-width="5" stroke-linecap="round"/>
<line x1="268.4" y1="468.9" x2="271.7" y2="466.8" stroke="#fff" stroke-width="2.6" stroke-linecap="round"/>
<line x1="268.4" y1="468.9" x2="271.7" y2="466.8" stroke="#888" stroke-width="3.0"/>
<line x1="271.7" y1="466.8" x2="290.0" y2="455.7" stroke="#3a3a3a" stroke-width="6.2" stroke-linecap="round"/>
<line x1="271.7" y1="466.8" x2="290.0" y2="455.7" stroke="#fff" stroke-width="3.8000000000000003" stroke-linecap="round"/>
<line x1="256.2" y1="494.4" x2="291.2" y2="473.9" stroke="#3a3a3a" stroke-width="6.4" stroke-linecap="round"/>
<line x1="256.2" y1="494.4" x2="291.2" y2="473.9" stroke="#d8d8d8" stroke-width="3.8000000000000003" stroke-linecap="round"/>
<path d="M257.7,496.9 L254.7,491.9 M262.7,494.0 L259.7,489.0 M267.7,491.0 L264.7,486.0 M272.7,488.1 L269.7,483.1 M277.7,485.2 L274.7,480.2 M282.7,482.3 L279.7,477.3 M287.7,479.3 L284.7,474.3 M292.7,476.4 L289.7,471.4" stroke="#3a3a3a" stroke-width="1.5" fill="none"/>
<path d="M246.5,480 L237.5,485.5 Q236,486 236,489 L236.8,499.9 Q236.8,503.4 238.8,502.9 L249,499.2" stroke="#3a3a3a" stroke-width="4.2" fill="none" stroke-linecap="round" stroke-linejoin="round"/>
<path d="M246.5,480 L237.5,485.5 Q236,486 236,489 L236.8,499.9 Q236.8,503.4 238.8,502.9 L249,499.2" stroke="#fff" stroke-width="1.8000000000000003" fill="none" stroke-linecap="round" stroke-linejoin="round"/>
<ellipse cx="247.3" cy="479.7" rx="2.2" ry="2.6" transform="rotate(-30 247.3 479.7)" stroke="#3a3a3a" stroke-width="1.3" fill="#bbb"/>
<ellipse cx="249.8" cy="498.9" rx="2.2" ry="2.6" transform="rotate(-30 249.8 498.9)" stroke="#3a3a3a" stroke-width="1.3" fill="#bbb"/>
<path d="M252.3,502.8 L267.8,509.4 L268.8,533.7 L252.8,528.5 Z" stroke="#3a3a3a" stroke-width="1.5" fill="#fff"/>
<line x1="255.4" y1="505.1" x2="256.0" y2="528.5" stroke="#3a3a3a" stroke-width="1.1"/>
<line x1="259.3" y1="506.8" x2="260.0" y2="529.8" stroke="#3a3a3a" stroke-width="1.1"/>
<line x1="263.5" y1="508.6" x2="264.3" y2="531.2" stroke="#3a3a3a" stroke-width="1.1"/>
<line x1="254.3" y1="516.6" x2="265.8" y2="522.5" stroke="#777" stroke-width="0.9"/>
<path d="M273,499 L279,497 L280,509 L274,511 Z" stroke="#3a3a3a" stroke-width="1.4" fill="#fff"/>
<path d="M279,497 L284,500 L285,512 L280,509" stroke="#3a3a3a" stroke-width="1.4" fill="#ddd"/>
<line x1="276.0" y1="500.0" x2="277.0" y2="509.0" stroke="#3a3a3a" stroke-width="1.0"/>
<line x1="232.5" y1="530.8" x2="239.0" y2="527.0" stroke="#555" stroke-width="3.2"/>
<ellipse cx="231.5" cy="531.3" rx="2.3" ry="2.8" transform="rotate(-30 231.5 531.3)" stroke="#3a3a3a" stroke-width="1.3" fill="#fff"/>
<circle cx="243.0" cy="524.4" r="2.8" stroke="#3a3a3a" stroke-width="1.3" fill="#999"/>
<line x1="308.2" y1="509.0" x2="319.9" y2="502.4" stroke="#3a3a3a" stroke-width="6.5" stroke-linecap="round"/>
<line x1="308.2" y1="509.0" x2="319.9" y2="502.4" stroke="#d8d8d8" stroke-width="3.9" stroke-linecap="round"/>
<path d="M309.6,511.6 L306.8,506.4 M313.6,509.4 L310.7,504.2 M317.5,507.2 L314.6,502.1 M321.4,505.0 L318.5,499.9" stroke="#3a3a3a" stroke-width="1.5" fill="none"/>
<line x1="319.9" y1="502.4" x2="323.2" y2="500.6" stroke="#3a3a3a" stroke-width="5" stroke-linecap="round"/>
<line x1="319.9" y1="502.4" x2="323.2" y2="500.6" stroke="#fff" stroke-width="2.6" stroke-linecap="round"/>
<line x1="319.9" y1="502.4" x2="323.2" y2="500.6" stroke="#888" stroke-width="3.0"/>
<line x1="323.2" y1="500.6" x2="340.8" y2="490.8" stroke="#3a3a3a" stroke-width="6.2" stroke-linecap="round"/>
<line x1="323.2" y1="500.6" x2="340.8" y2="490.8" stroke="#fff" stroke-width="3.8000000000000003" stroke-linecap="round"/>
<line x1="307.0" y1="528.3" x2="339.6" y2="511.3" stroke="#3a3a3a" stroke-width="6.4" stroke-linecap="round"/>
<line x1="307.0" y1="528.3" x2="339.6" y2="511.3" stroke="#d8d8d8" stroke-width="3.8000000000000003" stroke-linecap="round"/>
<path d="M308.3,530.9 L305.7,525.7 M313.0,528.4 L310.3,523.3 M317.7,526.0 L315.0,520.9 M322.3,523.6 L319.6,518.4 M327.0,521.2 L324.3,516.0 M331.6,518.7 L328.9,513.6 M336.3,516.3 L333.6,511.2 M340.9,513.9 L338.3,508.7" stroke="#3a3a3a" stroke-width="1.5" fill="none"/>
<path d="M301,513.8 L291.5,518.1 Q290,518.6 290,521.6 L290,533.7 Q290,537.2 292,536.7 L303.3,533" stroke="#3a3a3a" stroke-width="4.2" fill="none" stroke-linecap="round" stroke-linejoin="round"/>
<path d="M301,513.8 L291.5,518.1 Q290,518.6 290,521.6 L290,533.7 Q290,537.2 292,536.7 L303.3,533" stroke="#fff" stroke-width="1.8000000000000003" fill="none" stroke-linecap="round" stroke-linejoin="round"/>
<ellipse cx="301.8" cy="513.5" rx="2.2" ry="2.6" transform="rotate(-30 301.8 513.5)" stroke="#3a3a3a" stroke-width="1.3" fill="#bbb"/>
<ellipse cx="304.1" cy="532.7" rx="2.2" ry="2.6" transform="rotate(-30 304.1 532.7)" stroke="#3a3a3a" stroke-width="1.3" fill="#bbb"/>
<path d="M231.8,575.0 L247.3,567.5 L255.3,562.0 Q262.3,557.5 274.3,557.5 L282.3,561.5 L284.3,570.5 L279.3,581.5 L282.8,583.5 L271.3,592.0 L262.3,587.5 L241.3,598.5 Z" stroke="#3a3a3a" stroke-width="1.6" fill="#fff"/>
<path d="M247.3,567.5 Q258.3,577.5 262.3,587.5" stroke="#3a3a3a" stroke-width="1.9" fill="none"/>
<path d="M250.3,566.0 Q260.3,575.5 263.8,586.5 M252.8,564.5 Q262.3,574.5 265.3,585.5" stroke="#3a3a3a" stroke-width="1.2" fill="none"/>
<path d="M255.3,562.0 Q259.3,556.5 268.3,556.5 L278.3,557.5" stroke="#3a3a3a" stroke-width="2.0" fill="none"/>
<circle cx="281.8" cy="561.5" r="3.3" stroke="#3a3a3a" stroke-width="1.4" fill="#fff"/>
<path d="M272.3,573.5 Q278.3,569.5 280.3,576.5 Q280.3,582.5 275.3,582.5 Q271.3,579.5 272.3,573.5" stroke="#3a3a3a" stroke-width="1.3" fill="none"/>
<path d="M274.3,576.5 L277.3,578.5" stroke="#3a3a3a" stroke-width="1.1" fill="none"/>
<ellipse cx="238.3" cy="587.5" rx="10.3" ry="11.7" transform="rotate(-20 238.3 587.5)" stroke="#3a3a3a" stroke-width="1.8" fill="#fff"/>
<circle cx="245.6" cy="589.0" r="1.5" stroke="#3a3a3a" stroke-width="1.1" fill="#fff"/>
<circle cx="241.8" cy="595.1" r="1.5" stroke="#3a3a3a" stroke-width="1.1" fill="#fff"/>
<circle cx="235.4" cy="595.5" r="1.5" stroke="#3a3a3a" stroke-width="1.1" fill="#fff"/>
<circle cx="231.2" cy="589.8" r="1.5" stroke="#3a3a3a" stroke-width="1.1" fill="#fff"/>
<circle cx="232.3" cy="582.4" r="1.5" stroke="#3a3a3a" stroke-width="1.1" fill="#fff"/>
<circle cx="237.9" cy="578.9" r="1.5" stroke="#3a3a3a" stroke-width="1.1" fill="#fff"/>
<circle cx="243.9" cy="581.8" r="1.5" stroke="#3a3a3a" stroke-width="1.1" fill="#fff"/>
<path d="M235.3,583.5 L240.3,582.5 L242.3,588.5 L239.3,592.5 L234.3,590.5 Z" stroke="#3a3a3a" stroke-width="1.3" fill="#bbb"/>
<line x1="237.8" y1="584.5" x2="239.3" y2="590.5" stroke="#3a3a3a" stroke-width="1.0"/>
<line x1="227.5" y1="596.6" x2="228.3" y2="620.0" stroke="#3a3a3a" stroke-width="6" stroke-linecap="round"/>
<line x1="227.5" y1="596.6" x2="228.3" y2="620.0" stroke="#d8d8d8" stroke-width="3.4" stroke-linecap="round"/>
<path d="M224.8,596.7 L230.2,596.5 M224.9,600.6 L230.3,600.4 M225.1,604.5 L230.5,604.3 M225.2,608.4 L230.6,608.2 M225.3,612.3 L230.7,612.1 M225.5,616.2 L230.9,616.0 M225.6,620.1 L231.0,619.9" stroke="#3a3a3a" stroke-width="1.5" fill="none"/>
<path d="M228.3,620 Q229,628 235.5,630" stroke="#3a3a3a" stroke-width="5" fill="none" stroke-linecap="round" stroke-linejoin="round"/>
<path d="M228.3,620 Q229,628 235.5,630" stroke="#fff" stroke-width="2.6" fill="none" stroke-linecap="round" stroke-linejoin="round"/>
<circle cx="237.5" cy="629.5" r="2.6" stroke="#3a3a3a" stroke-width="1.3" fill="#999"/>
<path d="M240.5,633.4 L249,637" stroke="#3a3a3a" stroke-width="1.2" fill="none" stroke-dasharray="4 2"/>
<path d="M252,638 L261,637 L262,644 L258,647 L253,645 Z" stroke="#3a3a3a" stroke-width="1.4" fill="#fff"/>
<ellipse cx="256.5" cy="637.5" rx="4" ry="2" transform="rotate(0 256.5 637.5)" stroke="#3a3a3a" stroke-width="1.3" fill="#bbb"/>
<circle cx="251.0" cy="641.0" r="1.8" stroke="#3a3a3a" stroke-width="1.1" fill="#999"/>
<path d="M269,635.5 L278,634.5 L279,641.5 L275,644.5 L270,642.5 Z" stroke="#3a3a3a" stroke-width="1.4" fill="#fff"/>
<ellipse cx="273.5" cy="635.0" rx="4" ry="2" transform="rotate(0 273.5 635.0)" stroke="#3a3a3a" stroke-width="1.3" fill="#bbb"/>
<circle cx="268.0" cy="638.5" r="1.8" stroke="#3a3a3a" stroke-width="1.1" fill="#999"/>
<circle cx="280.1" cy="641.2" r="2.3" stroke="#3a3a3a" stroke-width="1.2" fill="#ccc"/>
<line x1="295.7" y1="617.2" x2="295.7" y2="642.0" stroke="#3a3a3a" stroke-width="6" stroke-linecap="round"/>
<line x1="295.7" y1="617.2" x2="295.7" y2="642.0" stroke="#d8d8d8" stroke-width="3.4" stroke-linecap="round"/>
<path d="M293.0,617.2 L298.4,617.2 M293.0,621.3 L298.4,621.3 M293.0,625.5 L298.4,625.5 M293.0,629.6 L298.4,629.6 M293.0,633.7 L298.4,633.7 M293.0,637.9 L298.4,637.9 M293.0,642.0 L298.4,642.0" stroke="#3a3a3a" stroke-width="1.5" fill="none"/>
<path d="M298.5,642 Q298,649 291,648 L287,646 L289,641 L293,641" stroke="#3a3a3a" stroke-width="1.4" fill="#fff"/>
<line x1="249.0" y1="605.5" x2="261.7" y2="598.0" stroke="#555" stroke-width="3.2"/>
<ellipse cx="248.0" cy="606.0" rx="2.3" ry="2.8" transform="rotate(-30 248.0 606.0)" stroke="#3a3a3a" stroke-width="1.3" fill="#fff"/>
<circle cx="268.0" cy="594.5" r="2.5" stroke="#3a3a3a" stroke-width="1.3" fill="#777"/>
<path d="M256.7,602 L257.5,635.6" stroke="#3a3a3a" stroke-width="1.2" fill="none" stroke-dasharray="8 2 2 2"/>
<path d="M271.6,597.4 L273,634.1" stroke="#3a3a3a" stroke-width="1.2" fill="none" stroke-dasharray="8 2 2 2"/>
<path d="M232,573 L233,578" stroke="#3a3a3a" stroke-width="1.2" fill="none"/>
<line x1="433.8" y1="514.2" x2="445.5" y2="507.6" stroke="#3a3a3a" stroke-width="6.5" stroke-linecap="round"/>
<line x1="433.8" y1="514.2" x2="445.5" y2="507.6" stroke="#d8d8d8" stroke-width="3.9" stroke-linecap="round"/>
<path d="M435.2,516.8 L432.4,511.6 M439.2,514.6 L436.3,509.4 M443.1,512.4 L440.2,507.3 M447.0,510.2 L444.1,505.1" stroke="#3a3a3a" stroke-width="1.5" fill="none"/>
<line x1="445.5" y1="507.6" x2="448.8" y2="505.8" stroke="#3a3a3a" stroke-width="5" stroke-linecap="round"/>
<line x1="445.5" y1="507.6" x2="448.8" y2="505.8" stroke="#fff" stroke-width="2.6" stroke-linecap="round"/>
<line x1="445.5" y1="507.6" x2="448.8" y2="505.8" stroke="#888" stroke-width="3.0"/>
<line x1="448.8" y1="505.8" x2="466.4" y2="496.0" stroke="#3a3a3a" stroke-width="6.2" stroke-linecap="round"/>
<line x1="448.8" y1="505.8" x2="466.4" y2="496.0" stroke="#fff" stroke-width="3.8000000000000003" stroke-linecap="round"/>
<line x1="433.8" y1="533.5" x2="466.4" y2="514.2" stroke="#3a3a3a" stroke-width="6.4" stroke-linecap="round"/>
<line x1="433.8" y1="533.5" x2="466.4" y2="514.2" stroke="#d8d8d8" stroke-width="3.8000000000000003" stroke-linecap="round"/>
<path d="M435.3,536.0 L432.3,531.0 M439.9,533.2 L437.0,528.2 M444.6,530.5 L441.6,525.5 M449.2,527.7 L446.3,522.7 M453.9,525.0 L451.0,520.0 M458.6,522.2 L455.6,517.2 M463.2,519.5 L460.3,514.5 M467.9,516.7 L464.9,511.7" stroke="#3a3a3a" stroke-width="1.5" fill="none"/>
<path d="M424,520.2 L413.5,525.8 Q412,526.3 412,529.3 L413.2,541.4 Q413.2,544.9 415.2,544.4 L424,539.6" stroke="#3a3a3a" stroke-width="4.2" fill="none" stroke-linecap="round" stroke-linejoin="round"/>
<path d="M424,520.2 L413.5,525.8 Q412,526.3 412,529.3 L413.2,541.4 Q413.2,544.9 415.2,544.4 L424,539.6" stroke="#fff" stroke-width="1.8000000000000003" fill="none" stroke-linecap="round" stroke-linejoin="round"/>
<ellipse cx="424.8" cy="519.9" rx="2.2" ry="2.6" transform="rotate(-30 424.8 519.9)" stroke="#3a3a3a" stroke-width="1.3" fill="#bbb"/>
<ellipse cx="424.8" cy="539.3" rx="2.2" ry="2.6" transform="rotate(-30 424.8 539.3)" stroke="#3a3a3a" stroke-width="1.3" fill="#bbb"/>
<path d="M428.4,543.4 L441.7,549.8 L442.8,575.3 L428.4,568.3 Z" stroke="#3a3a3a" stroke-width="1.5" fill="#fff"/>
<line x1="431.1" y1="545.7" x2="431.3" y2="568.7" stroke="#3a3a3a" stroke-width="1.1"/>
<line x1="434.4" y1="547.3" x2="434.9" y2="570.4" stroke="#3a3a3a" stroke-width="1.1"/>
<line x1="438.0" y1="549.0" x2="438.8" y2="572.3" stroke="#3a3a3a" stroke-width="1.1"/>
<line x1="430.4" y1="556.8" x2="439.7" y2="563.5" stroke="#777" stroke-width="0.9"/>
<path d="M448.3,541.6 L454.3,539.6 L455.3,551.6 L449.3,553.6 Z" stroke="#3a3a3a" stroke-width="1.4" fill="#fff"/>
<path d="M454.3,539.6 L459.3,542.6 L460.3,554.6 L455.3,551.6" stroke="#3a3a3a" stroke-width="1.4" fill="#ddd"/>
<line x1="451.3" y1="542.6" x2="452.3" y2="551.6" stroke="#3a3a3a" stroke-width="1.0"/>
<line x1="409.5" y1="570.2" x2="417.0" y2="566.0" stroke="#555" stroke-width="3.2"/>
<ellipse cx="408.5" cy="570.7" rx="2.3" ry="2.8" transform="rotate(-30 408.5 570.7)" stroke="#3a3a3a" stroke-width="1.3" fill="#fff"/>
<circle cx="420.3" cy="564.3" r="2.8" stroke="#3a3a3a" stroke-width="1.3" fill="#999"/>
<line x1="483.3" y1="550.5" x2="495.5" y2="543.5" stroke="#3a3a3a" stroke-width="6.5" stroke-linecap="round"/>
<line x1="483.3" y1="550.5" x2="495.5" y2="543.5" stroke="#d8d8d8" stroke-width="3.9" stroke-linecap="round"/>
<path d="M484.8,553.1 L481.8,547.9 M488.8,550.7 L485.9,545.6 M492.9,548.4 L490.0,543.3 M497.0,546.1 L494.0,541.0" stroke="#3a3a3a" stroke-width="1.5" fill="none"/>
<line x1="495.5" y1="543.5" x2="498.9" y2="541.6" stroke="#3a3a3a" stroke-width="5" stroke-linecap="round"/>
<line x1="495.5" y1="543.5" x2="498.9" y2="541.6" stroke="#fff" stroke-width="2.6" stroke-linecap="round"/>
<line x1="495.5" y1="543.5" x2="498.9" y2="541.6" stroke="#888" stroke-width="3.0"/>
<line x1="498.9" y1="541.6" x2="517.2" y2="531.1" stroke="#3a3a3a" stroke-width="6.2" stroke-linecap="round"/>
<line x1="498.9" y1="541.6" x2="517.2" y2="531.1" stroke="#fff" stroke-width="3.8000000000000003" stroke-linecap="round"/>
<line x1="481.0" y1="571.0" x2="513.6" y2="554.0" stroke="#3a3a3a" stroke-width="6.4" stroke-linecap="round"/>
<line x1="481.0" y1="571.0" x2="513.6" y2="554.0" stroke="#d8d8d8" stroke-width="3.8000000000000003" stroke-linecap="round"/>
<path d="M482.3,573.6 L479.7,568.4 M487.0,571.1 L484.3,566.0 M491.7,568.7 L489.0,563.6 M496.3,566.3 L493.6,561.1 M501.0,563.9 L498.3,558.7 M505.6,561.4 L502.9,556.3 M510.3,559.0 L507.6,553.9 M514.9,556.6 L512.3,551.4" stroke="#3a3a3a" stroke-width="1.5" fill="none"/>
<path d="M476,555.3 L466.7,559.6 Q465.2,560.1 465.2,563.1 L464,576.5 Q464,580.0 466,579.5 L476,575.9" stroke="#3a3a3a" stroke-width="4.2" fill="none" stroke-linecap="round" stroke-linejoin="round"/>
<path d="M476,555.3 L466.7,559.6 Q465.2,560.1 465.2,563.1 L464,576.5 Q464,580.0 466,579.5 L476,575.9" stroke="#fff" stroke-width="1.8000000000000003" fill="none" stroke-linecap="round" stroke-linejoin="round"/>
<ellipse cx="476.8" cy="555.0" rx="2.2" ry="2.6" transform="rotate(-30 476.8 555.0)" stroke="#3a3a3a" stroke-width="1.3" fill="#bbb"/>
<ellipse cx="476.8" cy="575.6" rx="2.2" ry="2.6" transform="rotate(-30 476.8 575.6)" stroke="#3a3a3a" stroke-width="1.3" fill="#bbb"/>
<path d="M406.9,616.2 L421.7,609.1 L429.2,603.9 Q435.9,599.6 447.3,599.6 L454.9,603.4 L456.8,612.0 L452.1,622.4 L455.4,624.3 L444.5,632.4 L435.9,628.1 L416.0,638.6 Z" stroke="#3a3a3a" stroke-width="1.6" fill="#fff"/>
<path d="M421.7,609.1 Q432.1,618.6 435.9,628.1" stroke="#3a3a3a" stroke-width="1.9" fill="none"/>
<path d="M424.5,607.7 Q434.0,616.7 437.3,627.1 M426.9,606.2 Q435.9,615.8 438.8,626.2" stroke="#3a3a3a" stroke-width="1.2" fill="none"/>
<path d="M429.2,603.9 Q433.1,598.6 441.6,598.6 L451.1,599.6" stroke="#3a3a3a" stroke-width="2.0" fill="none"/>
<circle cx="454.4" cy="603.4" r="3.135" stroke="#3a3a3a" stroke-width="1.4" fill="#fff"/>
<path d="M445.4,614.8 Q451.1,611.0 453.0,617.6 Q453.0,623.4 448.2,623.4 Q444.5,620.5 445.4,614.8" stroke="#3a3a3a" stroke-width="1.3" fill="none"/>
<path d="M447.3,617.6 L450.2,619.6" stroke="#3a3a3a" stroke-width="1.1" fill="none"/>
<ellipse cx="413.1" cy="628.1" rx="9.8" ry="10.9" transform="rotate(-20 413.1 628.1)" stroke="#3a3a3a" stroke-width="1.8" fill="#fff"/>
<circle cx="420.0" cy="629.5" r="1.4249999999999998" stroke="#3a3a3a" stroke-width="1.1" fill="#fff"/>
<circle cx="416.5" cy="635.2" r="1.4249999999999998" stroke="#3a3a3a" stroke-width="1.1" fill="#fff"/>
<circle cx="410.4" cy="635.5" r="1.4249999999999998" stroke="#3a3a3a" stroke-width="1.1" fill="#fff"/>
<circle cx="406.3" cy="630.3" r="1.4249999999999998" stroke="#3a3a3a" stroke-width="1.1" fill="#fff"/>
<circle cx="407.4" cy="623.4" r="1.4249999999999998" stroke="#3a3a3a" stroke-width="1.1" fill="#fff"/>
<circle cx="412.7" cy="620.0" r="1.4249999999999998" stroke="#3a3a3a" stroke-width="1.1" fill="#fff"/>
<circle cx="418.4" cy="622.8" r="1.4249999999999998" stroke="#3a3a3a" stroke-width="1.1" fill="#fff"/>
<path d="M410.2,624.3 L415.0,623.4 L416.9,629.1 L414.1,632.9 L409.3,631.0 Z" stroke="#3a3a3a" stroke-width="1.3" fill="#bbb"/>
<line x1="412.6" y1="625.2" x2="414.1" y2="631.0" stroke="#3a3a3a" stroke-width="1.0"/>
<line x1="402.2" y1="636.8" x2="402.2" y2="659.7" stroke="#3a3a3a" stroke-width="6" stroke-linecap="round"/>
<line x1="402.2" y1="636.8" x2="402.2" y2="659.7" stroke="#d8d8d8" stroke-width="3.4" stroke-linecap="round"/>
<path d="M399.5,636.8 L404.9,636.8 M399.5,640.6 L404.9,640.6 M399.5,644.4 L404.9,644.4 M399.5,648.2 L404.9,648.2 M399.5,652.1 L404.9,652.1 M399.5,655.9 L404.9,655.9 M399.5,659.7 L404.9,659.7" stroke="#3a3a3a" stroke-width="1.5" fill="none"/>
<path d="M402.2,659.7 Q403,668 409.5,670.5" stroke="#3a3a3a" stroke-width="5" fill="none" stroke-linecap="round" stroke-linejoin="round"/>
<path d="M402.2,659.7 Q403,668 409.5,670.5" stroke="#fff" stroke-width="2.6" fill="none" stroke-linecap="round" stroke-linejoin="round"/>
<circle cx="411.5" cy="670.5" r="2.6" stroke="#3a3a3a" stroke-width="1.3" fill="#999"/>
<path d="M413.1,673.8 L421.8,678.2" stroke="#3a3a3a" stroke-width="1.2" fill="none" stroke-dasharray="4 2"/>
<path d="M423.4,679 L432.4,678 L433.4,685 L429.4,688 L424.4,686 Z" stroke="#3a3a3a" stroke-width="1.4" fill="#fff"/>
<ellipse cx="427.9" cy="678.5" rx="4" ry="2" transform="rotate(0 427.9 678.5)" stroke="#3a3a3a" stroke-width="1.3" fill="#bbb"/>
<circle cx="422.4" cy="682.0" r="1.8" stroke="#3a3a3a" stroke-width="1.1" fill="#999"/>
<path d="M440,676.5 L449,675.5 L450,682.5 L446,685.5 L441,683.5 Z" stroke="#3a3a3a" stroke-width="1.4" fill="#fff"/>
<ellipse cx="444.5" cy="676.0" rx="4" ry="2" transform="rotate(0 444.5 676.0)" stroke="#3a3a3a" stroke-width="1.3" fill="#bbb"/>
<circle cx="439.0" cy="679.5" r="1.8" stroke="#3a3a3a" stroke-width="1.1" fill="#999"/>
<circle cx="451.5" cy="682.5" r="2.3" stroke="#3a3a3a" stroke-width="1.2" fill="#ccc"/>
<line x1="465.4" y1="659.7" x2="465.4" y2="683.0" stroke="#3a3a3a" stroke-width="6" stroke-linecap="round"/>
<line x1="465.4" y1="659.7" x2="465.4" y2="683.0" stroke="#d8d8d8" stroke-width="3.4" stroke-linecap="round"/>
<path d="M462.7,659.7 L468.1,659.7 M462.7,663.6 L468.1,663.6 M462.7,667.5 L468.1,667.5 M462.7,671.4 L468.1,671.4 M462.7,675.2 L468.1,675.2 M462.7,679.1 L468.1,679.1 M462.7,683.0 L468.1,683.0" stroke="#3a3a3a" stroke-width="1.5" fill="none"/>
<path d="M468.2,683 Q468,690 461,689 L457,687 L459,682 L463,682" stroke="#3a3a3a" stroke-width="1.4" fill="#fff"/>
<line x1="426.0" y1="644.4" x2="436.0" y2="638.5" stroke="#555" stroke-width="3.2"/>
<ellipse cx="425.0" cy="644.9" rx="2.3" ry="2.8" transform="rotate(-30 425.0 644.9)" stroke="#3a3a3a" stroke-width="1.3" fill="#fff"/>
<circle cx="441.4" cy="634.6" r="2.5" stroke="#3a3a3a" stroke-width="1.3" fill="#777"/>
<path d="M430.5,643.3 L431.6,677.1" stroke="#3a3a3a" stroke-width="1.2" fill="none" stroke-dasharray="8 2 2 2"/>
<path d="M443.6,636.8 L445.3,674.9" stroke="#3a3a3a" stroke-width="1.2" fill="none" stroke-dasharray="8 2 2 2"/></svg>
</body></html>
